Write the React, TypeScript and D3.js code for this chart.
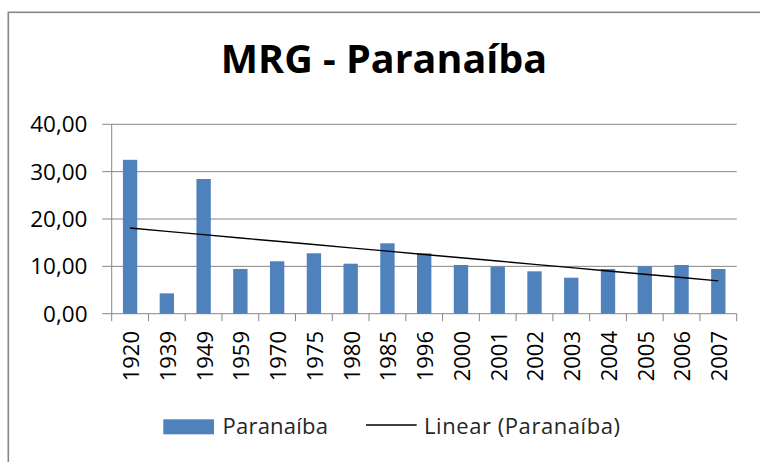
import React from "react";
import * as d3 from "d3";

const categories = ["1920","1939","1949","1959","1970","1975","1980","1985","1996","2000","2001","2002","2003","2004","2005","2006","2007"];
const values = [32.5, 4.3, 28.45, 9.45, 11.07, 12.76, 10.56, 14.87, 12.76, 10.29, 9.93, 8.95, 7.6, 9.44, 10.01, 10.29, 9.44];
const yTicks = [0, 10, 20, 30, 40];
const title = "MRG - Paranaíba";
const seriesName = "Paranaíba";
const trendName = "Linear (Paranaíba)";

const W = 760, H = 462;
const left = 111.7, right = 736.7, top = 124.3, bottom = 313.7;
const FONT = "'Open Sans', 'Noto Sans', sans-serif";
const BAR = "#4F81BD";
const GRID = "#868686";

export default function App() {
  const x = d3.scaleBand<string>().domain(categories).range([left, right]).paddingInner(0.61).paddingOuter(0.305);
  const y = d3.scaleLinear().domain([0, 40]).range([bottom, top]);
  const step = x.step();

  // linear trend (least squares on category index)
  const xs = values.map((_, i) => i + 1);
  const mx = d3.mean(xs)!;
  const my = d3.mean(values)!;
  const slope = d3.sum(xs.map((xi, i) => (xi - mx) * (values[i] - my))) / d3.sum(xs.map(xi => (xi - mx) ** 2));
  const intercept = my - slope * mx;
  const trendPts: [number, number][] = categories.map((c, i) => [x(c)! + x.bandwidth() / 2, y(intercept + slope * (i + 1))]);
  const line = d3.line();
  const fmt = (v: number) => v.toFixed(2).replace(".", ",");

  return (
    <svg width={W} height={H} style={{ position: "fixed", left: 0, top: 0, background: "#fff" }} fontFamily={FONT}>
      <rect x={0} y={0} width={W} height={H} fill="#fff" />
      {/* outer chart border (only left/top visible) */}
      <rect x={8.3} y={12.3} width={W + 20} height={H + 20} fill="none" stroke={GRID} strokeWidth={1.6} />
      <text x={384} y={72.7} textAnchor="middle" fontSize={39.5} fontWeight="bold" fill="#000">{title}</text>

      {/* gridlines */}
      {yTicks.map(t => (
        <line key={"g" + t} x1={left - 9.5} x2={right} y1={y(t)} y2={y(t)} stroke={GRID} strokeWidth={1} />
      ))}
      {yTicks.map(t => (
        <text key={"yl" + t} x={87.5} y={y(t)} dy="0.36em" textAnchor="end" fontSize={22.5} fill="#000">{fmt(t)}</text>
      ))}
      {/* y axis */}
      <line x1={left} x2={left} y1={top} y2={bottom} stroke={GRID} strokeWidth={1} />
      {/* x ticks */}
      {d3.range(categories.length + 1).map(i => (
        <line key={"xt" + i} x1={left + i * step} x2={left + i * step} y1={bottom} y2={bottom + 7.5} stroke={GRID} strokeWidth={1} />
      ))}

      {/* bars */}
      {categories.map((c, i) => (
        <rect key={c} x={x(c)!} y={y(values[i])} width={x.bandwidth()} height={y(0) - y(values[i])} fill={BAR} />
      ))}
      {/* trend line */}
      <path d={line(trendPts)!} fill="none" stroke="#000" strokeWidth={1.4} />

      {/* x labels */}
      {categories.map(c => {
        const cx = x(c)! + x.bandwidth() / 2 + 1;
        return (
          <text key={"xl" + c} transform={`translate(${cx},331) rotate(-90)`} dy="0.36em" textAnchor="end" fontSize={22} fill="#000">{c}</text>
        );
      })}

      {/* legend */}
      <rect x={163.3} y={419.3} width={50.7} height={15} fill={BAR} />
      <text x={222.5} y={434.3} fontSize={22} fill="#262626" textLength={105.5} lengthAdjust="spacing">{seriesName}</text>
      <line x1={366} x2={416.7} y1={425} y2={425} stroke="#000" strokeWidth={1.3} />
      <text x={424} y={434.3} fontSize={22} fill="#262626" textLength={196} lengthAdjust="spacing">{trendName}</text>
    </svg>
  );
}
